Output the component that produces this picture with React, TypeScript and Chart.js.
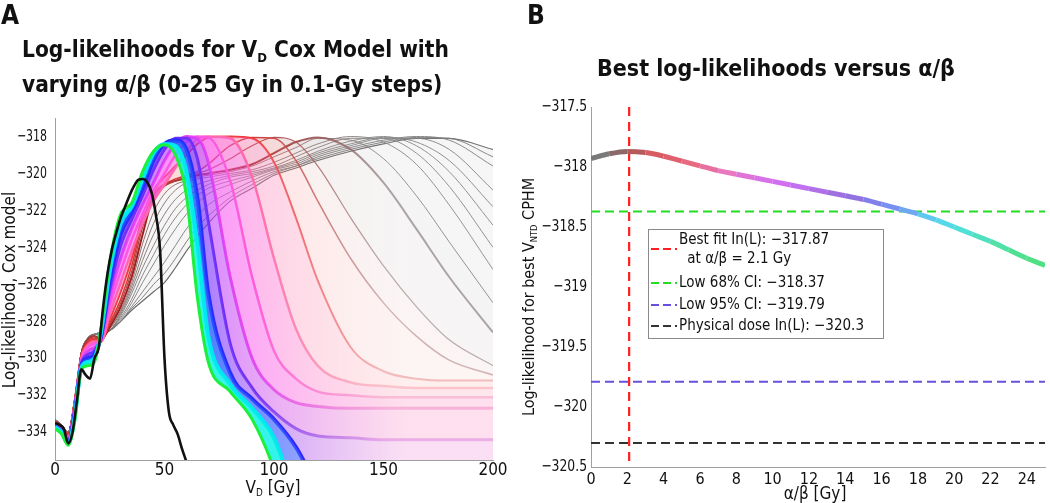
import React, { useEffect, useRef } from "react";
import { Chart, registerables } from "chart.js";
Chart.register(...registerables);

const FONT = '"DejaVu Sans Condensed", "Liberation Sans", Arial, sans-serif';

// ---------- Panel A data ----------
const doseGrid = [0, 3, 6, 9, 12, 15, 18, 21, 25, 30, 35, 40, 45, 50, 55, 60, 65, 70, 80, 90, 100, 110, 120, 135, 150, 165, 180, 200];
const doseTicks = [0, 50, 100, 150, 200];
const llTicksA = [-334, -332, -330, -328, -326, -324, -322, -320, -318];

const ll_ab25_0 = [-333.8, -334.1, -334.7, -333.4, -330.6, -330.4, -330.2, -328.4, -324.8, -322.2, -321.6, -319.9, -318.8, -318.45, -319.0, -321.2, -326.7, -330.2, -331.8, -333.3, -336.0, -340, -340, -340, -340, -340, -340, -340];
const ll_ab20_0 = [-333.7, -334.0, -334.6, -333.2, -330.5, -330.2, -330.0, -328.6, -325.3, -322.7, -321.8, -320.3, -318.9, -318.4, -318.5, -319.9, -323.8, -328.8, -331.4, -332.7, -334.3, -337.5, -340, -340, -340, -340, -340, -340];
const ll_ab17_0 = [-333.7, -334.0, -334.5, -333.0, -330.4, -330.0, -329.8, -328.8, -325.8, -323.3, -322.1, -320.8, -319.3, -318.4, -318.2, -318.7, -321.3, -326.5, -330.8, -332.2, -333.3, -334.8, -337.0, -340, -340, -340, -340, -340];
const ll_ab14_0 = [-333.6, -333.9, -334.5, -332.8, -330.3, -329.8, -329.6, -328.9, -326.3, -323.9, -322.5, -321.2, -319.8, -318.7, -318.1, -318.1, -319.2, -322.6, -329.2, -331.6, -332.9, -333.8, -334.2, -334.3, -334.4, -334.4, -334.4, -334.4];
const ll_ab11_0 = [-333.6, -333.9, -334.4, -332.7, -330.2, -329.6, -329.4, -329.0, -326.8, -324.6, -323.0, -321.7, -320.5, -319.3, -318.4, -318.0, -318.1, -319.4, -325.6, -330.0, -331.7, -332.4, -332.6, -332.7, -332.7, -332.7, -332.7, -332.7];
const ll_ab8_0 = [-333.5, -333.8, -334.3, -332.6, -330.1, -329.4, -329.2, -329.0, -327.2, -325.3, -323.6, -322.2, -321.0, -320.0, -319.0, -318.3, -318.0, -318.05, -320.4, -325.6, -329.6, -331.1, -331.8, -332.0, -332.1, -332.1, -332.1, -332.1];
const ll_ab6_0 = [-333.5, -333.8, -334.3, -332.5, -330.0, -329.3, -329.1, -329.1, -327.6, -325.9, -324.2, -322.7, -321.5, -320.6, -319.7, -318.8, -318.15, -318.0, -318.1, -320.2, -324.6, -328.4, -330.4, -331.3, -331.5, -331.6, -331.6, -331.6];
const ll_ab4_5 = [-333.4, -333.7, -334.2, -332.4, -329.9, -329.2, -329.0, -329.1, -327.9, -326.4, -324.6, -322.3, -320.9, -320.2, -319.6, -319.0, -318.4, -318.05, -318.0, -318.1, -319.4, -322.4, -325.8, -329.4, -330.7, -331.1, -331.2, -331.2];
const ll_ab3_5 = [-333.4, -333.7, -334.1, -332.3, -329.8, -329.1, -328.9, -329.1, -328.1, -326.8, -325.0, -322.6, -321.2, -320.6, -320.3, -320.1, -319.9, -319.5, -318.5, -318.05, -318.1, -319.3, -321.5, -324.6, -327.0, -328.8, -330.1, -330.9];
const ll_ab3_25 = [-333.4, -333.7, -334.1, -332.3, -329.8, -329.0, -328.8, -329.0, -328.2, -327.0, -325.3, -322.9, -321.4, -320.7, -320.4, -320.2, -320.0, -319.8, -319.2, -318.5, -318.05, -318.3, -319.6, -322.4, -325.0, -327.2, -329.0, -330.4];
const ll_ab3_0 = [-333.4, -333.7, -334.1, -332.3, -329.8, -329.0, -328.8, -329.0, -328.3, -327.2, -325.6, -323.3, -321.2, -320.6, -320.4, -320.25, -320.1, -320.0, -319.8, -319.5, -318.9, -318.3, -318.05, -318.7, -320.5, -323.0, -325.6, -328.6];
const ll_ab2_75 = [-333.4, -333.6, -334.0, -332.2, -329.7, -329.0, -328.8, -328.9, -328.4, -327.4, -325.9, -323.8, -322.1, -321.1, -320.6, -320.4, -320.2, -320.1, -319.9, -319.6, -319.1, -318.6, -318.1, -318.2, -319.2, -321.2, -323.7, -327.0];
const ll_ab2_5 = [-333.4, -333.6, -334.0, -332.2, -329.7, -329.0, -328.8, -328.9, -328.4, -327.5, -326.1, -324.3, -322.7, -321.6, -320.9, -320.5, -320.3, -320.2, -320.0, -319.8, -319.4, -318.9, -318.4, -318.0, -318.3, -319.5, -321.7, -325.2];
const ll_ab2_25 = [-333.3, -333.6, -334.0, -332.2, -329.7, -328.9, -328.7, -328.8, -328.5, -327.6, -326.3, -324.7, -323.3, -322.2, -321.4, -320.9, -320.6, -320.4, -320.1, -319.9, -319.6, -319.1, -318.6, -318.1, -318.1, -318.9, -320.7, -324.0];
const ll_ab2_0 = [-333.3, -333.6, -334.0, -332.2, -329.7, -328.9, -328.7, -328.7, -328.5, -327.7, -326.5, -325.1, -323.9, -322.8, -321.9, -321.3, -320.9, -320.6, -320.2, -320.0, -319.7, -319.3, -318.8, -318.25, -318.0, -318.5, -319.9, -322.8];
const ll_ab1_75 = [-333.3, -333.6, -334.0, -332.2, -329.7, -328.9, -328.7, -328.7, -328.5, -327.8, -326.8, -325.5, -324.4, -323.3, -322.4, -321.7, -321.2, -320.8, -320.4, -320.1, -319.75, -319.4, -318.9, -318.4, -318.05, -318.3, -319.3, -321.8];
const ll_ab1_5 = [-333.3, -333.6, -334.0, -332.2, -329.7, -328.9, -328.7, -328.6, -328.5, -327.9, -327.0, -325.9, -324.9, -323.9, -323.0, -322.2, -321.6, -321.1, -320.6, -320.2, -319.8, -319.5, -319.0, -318.5, -318.1, -318.1, -318.7, -320.9];
const ll_ab1_0 = [-333.3, -333.6, -334.0, -332.2, -329.7, -328.9, -328.7, -328.6, -328.5, -328.0, -327.2, -326.4, -325.6, -324.8, -323.9, -323.0, -322.3, -321.7, -321.0, -320.4, -319.9, -319.6, -319.1, -318.6, -318.2, -318.0, -318.2, -319.6];
const ll_ab0_5 = [-333.3, -333.6, -334.0, -332.2, -329.7, -328.9, -328.7, -328.6, -328.5, -328.0, -327.3, -326.7, -326.0, -325.4, -324.6, -323.7, -322.9, -322.3, -321.3, -320.6, -320.0, -319.6, -319.2, -318.7, -318.3, -318.05, -318.1, -319.1];
const ll_ab0_0 = [-333.3, -333.6, -334.0, -332.2, -329.7, -328.9, -328.7, -328.6, -328.5, -328.0, -327.4, -326.9, -326.4, -325.9, -325.1, -324.2, -323.4, -322.7, -321.5, -320.8, -320.1, -319.7, -319.3, -318.8, -318.4, -318.1, -318.1, -318.7];

const physDose = [0, 2, 4, 6, 8, 10, 12, 14, 16, 18, 20, 22, 24, 26, 28, 30, 32, 34, 36, 38, 40, 42, 44, 46, 48, 50, 52, 54, 56, 58, 60, 62];
const physLL = [-333.5, -333.6, -333.8, -334.6, -334.0, -332.3, -330.6, -330.9, -331.1, -330.0, -329.4, -327.2, -325.4, -324.1, -323.2, -322.4, -321.8, -321.2, -320.7, -320.35, -320.3, -320.45, -321.0, -322.2, -324.2, -330.0, -332.9, -333.6, -334.1, -334.9, -335.6, -336.5];

// ---------- Panel B data ----------
const abGrid = [0, 1, 2, 3, 4, 5, 6, 7, 8, 9, 10, 11, 12, 13, 14, 15, 16, 17, 18, 19, 20, 21, 22, 23, 24, 25];
const bestLL = [-317.93, -317.89, -317.87, -317.88, -317.91, -317.95, -317.99, -318.03, -318.06, -318.09, -318.12, -318.15, -318.18, -318.21, -318.24, -318.27, -318.31, -318.35, -318.39, -318.44, -318.5, -318.56, -318.62, -318.69, -318.76, -318.82];
const abTicks = [0, 2, 4, 6, 8, 10, 12, 14, 16, 18, 20, 22, 24];
const llTicksB = [-320.5, -320, -319.5, -319, -318.5, -318, -317.5];
const bestAB = 2.1;
const ci68 = -318.37;
const ci95 = -319.79;
const physBest = -320.3;
const legendLabels = ["Best fit In(L): \u2212317.87", "Low 68% CI: \u2212318.37", "Low 95% CI: \u2212319.79", "Physical dose In(L): \u2212320.3"];
const legendSecond = " at \u03b1/\u03b2 = 2.1 Gy";

const curveColorsB = ["#7a7a7a", "#8c6868", "#b65a5a", "#d65e62", "#e0606e", "#e66a80", "#e870a0", "#e878c0", "#e072d8", "#d872e8", "#d070f0", "#c070f0", "#b070e8", "#a070e0", "#9072e0", "#8080e8", "#7890f0", "#70a8f0", "#60c8f0", "#55d8e8", "#50e0d8", "#50e0c0", "#50e0a8", "#50e094", "#50e084", "#50e074"];
const refColors = ["#ff1f1f", "#22dd22", "#6650e0", "#333333"];

const fmt = (v: number) => (v < 0 ? "\u2212" : "") + String(Math.abs(v));

function gradX(c0: string, c1: string, g0: number, g1: number) {
  return (ctx: any) => {
    const chart = ctx.chart;
    if (!chart || !chart.chartArea || !chart.scales.x) return c0;
    const xs = chart.scales.x;
    const g = chart.ctx.createLinearGradient(xs.getPixelForValue(g0), 0, xs.getPixelForValue(g1), 0);
    g.addColorStop(0, c0);
    g.addColorStop(1, c1);
    return g;
  };
}

const GREY_FILL = "rgba(150,150,150,0.09)";
const familyA = [
  { label: "25", values: ll_ab25_0, l0: "#1cf03c", l1: "#1cf03c", width: 3, f0: "rgba(0,240,230,0.8)", f1: "rgba(0,240,230,0.8)" },
  { label: "20", values: ll_ab20_0, l0: "#00e6f2", l1: "#00e6f2", width: 4, f0: "rgba(30,90,255,0.8)", f1: "rgba(110,110,255,0.4)" },
  { label: "17", values: ll_ab17_0, l0: "#2b2bff", l1: "#2b2bff", width: 4, f0: "rgba(120,50,255,0.65)", f1: "rgba(240,150,220,0.3)" },
  { label: "14", values: ll_ab14_0, l0: "#6a30f5", l1: "rgba(215,130,220,0.55)", width: 3, f0: "rgba(190,60,255,0.62)", f1: "rgba(250,150,200,0.3)" },
  { label: "11", values: ll_ab11_0, l0: "#e846f0", l1: "rgba(240,140,200,0.55)", width: 3, f0: "rgba(250,80,250,0.62)", f1: "rgba(250,150,195,0.3)" },
  { label: "8", values: ll_ab8_0, l0: "#ff5ad8", l1: "rgba(245,150,190,0.5)", width: 2.5, f0: "rgba(255,90,230,0.55)", f1: "rgba(250,160,180,0.25)" },
  { label: "6", values: ll_ab6_0, l0: "#ff6aa0", l1: "rgba(245,160,170,0.5)", width: 2.5, f0: "rgba(255,110,190,0.42)", f1: "rgba(250,170,170,0.2)" },
  { label: "4.5", values: ll_ab4_5, l0: "#f03030", l1: "rgba(230,130,130,0.5)", width: 2, f0: "rgba(255,110,110,0.25)", f1: "rgba(240,180,180,0.15)" },
  { label: "3.5", values: ll_ab3_5, l0: "#c83232", l1: "rgba(170,120,120,0.55)", width: 1.5, f0: "rgba(210,120,120,0.16)", f1: "rgba(210,150,150,0.1)" },
  { label: "3.25", values: ll_ab3_25, l0: "#b03838", l1: "rgba(140,120,120,0.6)", width: 1.2, f0: "rgba(180,120,120,0.14)", f1: "rgba(170,150,150,0.1)" },
  { label: "3", values: ll_ab3_0, l0: "#a01818", l1: "rgba(130,120,120,0.65)", width: 2, f0: "rgba(160,130,130,0.12)", f1: "rgba(160,150,150,0.1)" },
  { label: "2.75", values: ll_ab2_75, l0: "#8a6262", l1: "#8c8686", width: 0.9, f0: GREY_FILL, f1: GREY_FILL },
  { label: "2.5", values: ll_ab2_5, l0: "#866a6a", l1: "#8a8686", width: 0.9, f0: GREY_FILL, f1: GREY_FILL },
  { label: "2.25", values: ll_ab2_25, l0: "#827070", l1: "#888686", width: 0.9, f0: GREY_FILL, f1: GREY_FILL },
  { label: "2", values: ll_ab2_0, l0: "#807676", l1: "#868686", width: 0.9, f0: GREY_FILL, f1: GREY_FILL },
  { label: "1.75", values: ll_ab1_75, l0: "#7e7b7b", l1: "#848484", width: 0.9, f0: GREY_FILL, f1: GREY_FILL },
  { label: "1.5", values: ll_ab1_5, l0: "#7c7c7c", l1: "#828282", width: 0.9, f0: GREY_FILL, f1: GREY_FILL },
  { label: "1", values: ll_ab1_0, l0: "#787878", l1: "#7e7e7e", width: 0.9, f0: GREY_FILL, f1: GREY_FILL },
  { label: "0.5", values: ll_ab0_5, l0: "#727272", l1: "#7a7a7a", width: 0.9, f0: GREY_FILL, f1: GREY_FILL },
  { label: "0", values: ll_ab0_0, l0: "#666666", l1: "#707070", width: 1.1, f0: "", f1: "" },
];

// draws tick labels (horizontally condensed) at the positions of the library's own ticks
const narrowTicks = {
  id: "narrowTicks",
  afterDraw(chart: any, _args: any, opts: any) {
    const c = chart.ctx;
    const xs = chart.scales.x;
    const ys = chart.scales.y;
    const area = chart.chartArea;
    c.save();
    c.fillStyle = "#111";
    c.font = opts.sizeY + "px " + FONT;
    c.textAlign = "right";
    c.textBaseline = "middle";
    for (const t of ys.ticks) {
      c.save();
      c.translate(area.left - opts.yPad, ys.getPixelForValue(t.value));
      c.scale(opts.sxY, 1);
      c.fillText(fmt(t.value), 0, 0);
      c.restore();
    }
    c.font = opts.sizeX + "px " + FONT;
    c.textAlign = "center";
    c.textBaseline = "top";
    for (const t of xs.ticks) {
      c.save();
      c.translate(xs.getPixelForValue(t.value), area.bottom + opts.xPad);
      c.scale(opts.sxX, 1);
      c.fillText(fmt(t.value), 0, 0);
      c.restore();
    }
    c.restore();
  },
};

function configA(): any {
  const datasets: any[] = [
    {
      label: "Physical dose",
      data: physDose.map((x, i) => ({ x, y: physLL[i] })),
      borderColor: "#111111",
      borderWidth: 2.6,
      pointRadius: 0,
      fill: false,
      cubicInterpolationMode: "monotone",
    },
  ];
  familyA.forEach((c, idx) => {
    const last = idx === familyA.length - 1;
    datasets.push({
      label: "\u03b1/\u03b2 = " + c.label + " Gy",
      data: doseGrid.map((x, i) => ({ x, y: c.values[i] })),
      borderColor: gradX(c.l0, c.l1, 90, 150),
      borderWidth: c.width,
      pointRadius: 0,
      cubicInterpolationMode: "monotone",
      fill: last ? false : "+1",
      backgroundColor: last ? "transparent" : gradX(c.f0, c.f1, 65, 160),
    });
  });
  return {
    type: "line",
    data: { datasets },
    options: {
      animation: false,
      responsive: false,
      events: [],
      layout: { padding: { left: 0, right: 27, top: 118, bottom: 0 } },
      plugins: {
        legend: { display: false },
        tooltip: { enabled: false },
        title: { display: false },
        narrowTicks: { sizeY: 16, sxY: 0.76, sizeX: 17, sxX: 1, yPad: 8, xPad: 2 },
      },
      scales: {
        x: {
          type: "linear",
          min: 0,
          max: 200,
          afterBuildTicks: (s: any) => { s.ticks = doseTicks.map((v) => ({ value: v })); },
          afterFit: (s: any) => { s.height = 43; },
          grid: { display: false, drawTicks: false },
          border: { display: true, color: "#a0a0a0", width: 1 },
          ticks: { display: false },
        },
        y: {
          type: "linear",
          min: -335.5,
          max: -317,
          afterBuildTicks: (s: any) => { s.ticks = llTicksA.map((v) => ({ value: v })); },
          afterFit: (s: any) => { s.width = 55; },
          grid: { display: false, drawTicks: false },
          border: { display: true, color: "#a0a0a0", width: 1 },
          ticks: { display: false },
        },
      },
    },
    plugins: [narrowTicks],
  };
}

const legendPlugin = {
  id: "boxLegend",
  afterDraw(chart: any) {
    const c = chart.ctx;
    c.save();
    c.fillStyle = "#ffffff";
    c.fillRect(128.5, 229.5, 235, 109);
    c.strokeStyle = "#8a8a8a";
    c.lineWidth = 1;
    c.strokeRect(128.5, 229.5, 235, 109);
    const lineYs = [249, 283, 305, 326];
    const textYs = [240, 283, 305, 326];
    c.font = "15px " + FONT;
    c.textBaseline = "middle";
    c.textAlign = "left";
    for (let i = 0; i < legendLabels.length; i++) {
      c.strokeStyle = refColors[i];
      c.lineWidth = 2;
      c.setLineDash([8, 4]);
      c.beginPath();
      c.moveTo(131, lineYs[i]);
      c.lineTo(157, lineYs[i]);
      c.stroke();
      c.setLineDash([]);
      c.fillStyle = "#111";
      c.fillText(legendLabels[i], 159, textYs[i]);
    }
    c.fillText(legendSecond, 163, 259);
    c.restore();
  },
};

function configB(): any {
  const hl = (y: number) => [{ x: 0, y }, { x: 25, y }];
  return {
    type: "line",
    data: {
      datasets: [
        {
          label: "Best log-likelihood",
          data: abGrid.map((x, i) => ({ x, y: bestLL[i] })),
          borderColor: curveColorsB[0],
          borderWidth: 5,
          pointRadius: 0,
          cubicInterpolationMode: "monotone",
          segment: { borderColor: (ctx: any) => curveColorsB[ctx.p0DataIndex] },
          fill: false,
        },
        { label: legendLabels[0], data: [{ x: bestAB, y: -317.5 }, { x: bestAB, y: -320.5 }], borderColor: refColors[0], borderWidth: 2.2, borderDash: [9, 6], pointRadius: 0, fill: false },
        { label: legendLabels[1], data: hl(ci68), borderColor: refColors[1], borderWidth: 2, borderDash: [9, 5], pointRadius: 0, fill: false },
        { label: legendLabels[2], data: hl(ci95), borderColor: refColors[2], borderWidth: 2, borderDash: [9, 5], pointRadius: 0, fill: false },
        { label: legendLabels[3], data: hl(physBest), borderColor: refColors[3], borderWidth: 2, borderDash: [9, 5], pointRadius: 0, fill: false },
      ],
    },
    options: {
      animation: false,
      responsive: false,
      events: [],
      layout: { padding: { left: 0, right: 5, top: 107, bottom: 0 } },
      plugins: {
        legend: { display: false },
        tooltip: { enabled: false },
        title: { display: false },
        narrowTicks: { sizeY: 16, sxY: 0.86, sizeX: 16, sxX: 1, yPad: 4, xPad: 5 },
      },
      scales: {
        x: {
          type: "linear",
          min: 0,
          max: 25,
          afterBuildTicks: (s: any) => { s.ticks = abTicks.map((v) => ({ value: v })); },
          afterFit: (s: any) => { s.height = 36; },
          grid: { display: false, drawTicks: false },
          border: { display: true, color: "#a0a0a0", width: 1 },
          ticks: { display: false },
        },
        y: {
          type: "linear",
          min: -320.5,
          max: -317.5,
          afterBuildTicks: (s: any) => { s.ticks = llTicksB.map((v) => ({ value: v })); },
          afterFit: (s: any) => { s.width = 71; },
          grid: { display: false, drawTicks: false },
          border: { display: true, color: "#a0a0a0", width: 1 },
          ticks: { display: false },
        },
      },
    },
    plugins: [legendPlugin, narrowTicks],
  };
}

const sub = (t: string) => <span style={{ fontSize: "0.58em", verticalAlign: "-0.35em" }}>{t}</span>;

export default function App() {
  const refA = useRef<HTMLCanvasElement>(null);
  const refB = useRef<HTMLCanvasElement>(null);
  useEffect(() => {
    const a = new Chart(refA.current as HTMLCanvasElement, configA());
    const b = new Chart(refB.current as HTMLCanvasElement, configB());
    return () => {
      a.destroy();
      b.destroy();
    };
  }, []);
  const abs = (o: any) => ({ position: "absolute" as const, whiteSpace: "nowrap" as const, ...o });
  return (
    <div style={{ position: "absolute", left: 0, top: 0, width: 1050, height: 503, background: "#fff", overflow: "hidden", fontFamily: FONT, color: "#111" }}>
      <canvas ref={refA} width={520} height={503} style={{ position: "absolute", left: 0, top: 0, width: 520, height: 503 }} />
      <canvas ref={refB} width={530} height={503} style={{ position: "absolute", left: 520, top: 0, width: 530, height: 503 }} />
      <div style={abs({ left: 1, top: 0, fontSize: 26, lineHeight: "30px", fontWeight: 700 })}>A</div>
      <div style={abs({ left: 527, top: 0, fontSize: 26, lineHeight: "30px", fontWeight: 700 })}>B</div>
      <div style={abs({ left: 22, top: 36, fontSize: 22.5, lineHeight: "26px", fontWeight: 700 })}>
        Log-likelihoods for V{sub("D")} Cox Model with
      </div>
      <div style={abs({ left: 22, top: 71, fontSize: 22.5, lineHeight: "26px", fontWeight: 700 })}>
        varying {"\u03b1/\u03b2"} (0-25 Gy in 0.1-Gy steps)
      </div>
      <div style={abs({ left: 597, top: 55, fontSize: 23, lineHeight: "26px", fontWeight: 700 })}>
        Best log-likelihoods versus {"\u03b1/\u03b2"}
      </div>
      <div style={abs({ left: 9 - 150, top: 290 - 10, width: 300, height: 20, lineHeight: "20px", fontSize: 17, textAlign: "center", transform: "rotate(-90deg)" })}>
        Log-likelihood, Cox model
      </div>
      <div style={abs({ left: 173, top: 477, width: 200, height: 20, lineHeight: "20px", fontSize: 17, textAlign: "center" })}>
        V{sub("D")} [Gy]
      </div>
      <div style={abs({ left: 529 - 180, top: 297 - 10, width: 360, height: 20, lineHeight: "20px", fontSize: 16, textAlign: "center", transform: "rotate(-90deg)" })}>
        Log-likelihood for best V{sub("NTD")} CPHM
      </div>
      <div style={abs({ left: 715, top: 483, width: 200, height: 20, lineHeight: "20px", fontSize: 17, textAlign: "center" })}>
        {"\u03b1/\u03b2"} [Gy]
      </div>
    </div>
  );
}
